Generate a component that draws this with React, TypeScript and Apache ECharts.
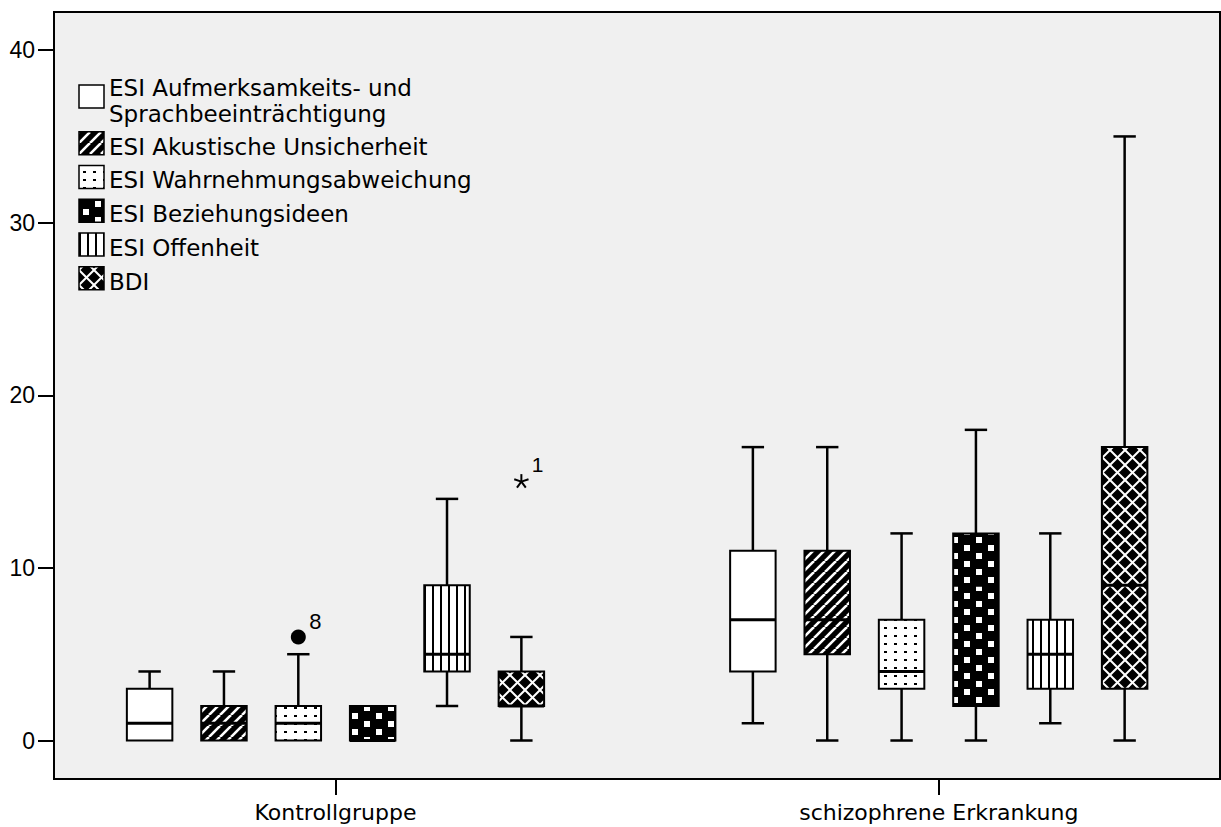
import React, { useEffect, useRef } from 'react';
import * as echarts from 'echarts';

// ---- data ----
const groups = ['Kontrollgruppe', 'schizophrene Erkrankung'];
const seriesNames = [
  'ESI Aufmerksamkeits- und Sprachbeeinträchtigung',
  'ESI Akustische Unsicherheit',
  'ESI Wahrnehmungsabweichung',
  'ESI Beziehungsideen',
  'ESI Offenheit',
  'BDI',
];
const legendLabels = [
  'ESI Aufmerksamkeits- und\nSprachbeeinträchtigung',
  'ESI Akustische Unsicherheit',
  'ESI Wahrnehmungsabweichung',
  'ESI Beziehungsideen',
  'ESI Offenheit',
  'BDI',
];
// per group: [min, Q1, median, Q3, max]
const aufmerksamkeit = [[0, 0, 1, 3, 4], [1, 4, 7, 11, 17]];
const akustisch = [[0, 0, 1, 2, 4], [0, 5, 7, 11, 17]];
const wahrnehmung = [[0, 0, 1, 2, 5], [0, 3, 4, 7, 12]];
const beziehung = [[0, 0, 0, 2, 2], [0, 2, 9, 12, 18]];
const offenheit = [[2, 4, 5, 9, 14], [1, 3, 5, 7, 12]];
const bdi = [[0, 2, 2, 4, 6], [0, 3, 9, 17, 35]];
const boxData = [aufmerksamkeit, akustisch, wahrnehmung, beziehung, offenheit, bdi];

const outlierGroup = [0, 0];
const outlierSeries = [2, 5];
const outlierValues = [6, 15];
const outlierLabels = ['8', '1'];
const outlierKinds = ['circle', 'star'];

const yTicks = [0, 10, 20, 30, 40];
const xTicks = [0, 1];

// ---- layout / style ----
const FONT = '"Liberation Sans", Arial, sans-serif';
const FONT_WIDE = '"DejaVu Sans", "Liberation Sans", Arial, sans-serif';
const SPACING = 0.12325;
const BOX_W = 0.0754;
const CAP_W = 0.0371;

function makePattern(w: number, h: number, draw: (ctx: CanvasRenderingContext2D, w: number, h: number) => void) {
  const c = document.createElement('canvas');
  c.width = w;
  c.height = h;
  const ctx = c.getContext('2d')!;
  draw(ctx, w, h);
  return { image: c.toDataURL(), repeat: 'repeat', imageWidth: w, imageHeight: h } as any;
}

function buildFills() {
  const white = '#ffffff';
  const hatch = makePattern(11, 11, (ctx, w, h) => {
    ctx.fillStyle = '#000';
    ctx.fillRect(0, 0, w, h);
    ctx.strokeStyle = '#fff';
    ctx.lineWidth = 2.6;
    for (const o of [-w, 0, w]) {
      ctx.beginPath();
      ctx.moveTo(o, h);
      ctx.lineTo(o + w, 0);
      ctx.stroke();
    }
  });
  const dots = makePattern(10, 8, (ctx, w, h) => {
    ctx.fillStyle = '#fff';
    ctx.fillRect(0, 0, w, h);
    ctx.fillStyle = '#000';
    ctx.fillRect(4, 3, 3, 2);
  });
  const checker = makePattern(24, 16, (ctx, w, h) => {
    ctx.fillStyle = '#000';
    ctx.fillRect(0, 0, w, h);
    ctx.fillStyle = '#fff';
    ctx.fillRect(4, 1, 6, 6);
    ctx.fillRect(16, 9, 6, 6);
  });
  const vlines = makePattern(8, 8, (ctx, w, h) => {
    ctx.fillStyle = '#fff';
    ctx.fillRect(0, 0, w, h);
    ctx.fillStyle = '#000';
    ctx.fillRect(0, 0, 2, h);
  });
  const cross = makePattern(15, 15, (ctx, w, h) => {
    ctx.fillStyle = '#000';
    ctx.fillRect(0, 0, w, h);
    ctx.strokeStyle = '#fff';
    ctx.lineWidth = 2;
    for (const o of [-w, 0, w]) {
      ctx.beginPath();
      ctx.moveTo(o, h);
      ctx.lineTo(o + w, 0);
      ctx.stroke();
      ctx.beginPath();
      ctx.moveTo(o, 0);
      ctx.lineTo(o + w, h);
      ctx.stroke();
    }
  });
  return [white, hatch, dots, checker, vlines, cross];
}

export default function App() {
  const ref = useRef<HTMLDivElement>(null);

  useEffect(() => {
    if (!ref.current) return;
    const chart = echarts.init(ref.current, null, { renderer: 'svg' });
    const fills = buildFills();

    const boxSeries = seriesNames.map((name, k) => ({
      type: 'custom',
      name,
      itemStyle: { color: fills[k] },
      encode: { x: 0, y: [1, 2, 3, 4, 5] },
      data: boxData[k].map((d, g) => [g, ...d]),
      renderItem: (params: any, api: any) => {
        const g = api.value(0);
        const xc = g + (k - 2.5) * SPACING;
        const cx = api.coord([xc, 0])[0];
        const xl = api.coord([xc - BOX_W / 2, 0])[0];
        const xr = api.coord([xc + BOX_W / 2, 0])[0];
        const cl = api.coord([xc - CAP_W / 2, 0])[0];
        const cr = api.coord([xc + CAP_W / 2, 0])[0];
        const y = (i: number) => api.coord([xc, api.value(i)])[1];
        const vMin = api.value(1), q1 = api.value(2), q3 = api.value(4), vMax = api.value(5);
        const yMin = y(1), yQ1 = y(2), yMed = y(3), yQ3 = y(4), yMax = y(5);
        const lineStyle = { stroke: '#000', lineWidth: 2.5 };
        const children: any[] = [];
        if (vMax > q3) {
          children.push({ type: 'line', shape: { x1: cx, y1: yQ3, x2: cx, y2: yMax }, style: lineStyle });
          children.push({ type: 'line', shape: { x1: cl, y1: yMax, x2: cr, y2: yMax }, style: lineStyle });
        }
        if (vMin < q1) {
          children.push({ type: 'line', shape: { x1: cx, y1: yQ1, x2: cx, y2: yMin }, style: lineStyle });
          children.push({ type: 'line', shape: { x1: cl, y1: yMin, x2: cr, y2: yMin }, style: lineStyle });
        }
        children.push({
          type: 'rect',
          shape: { x: xl, y: yQ3, width: xr - xl, height: yQ1 - yQ3 },
          style: { fill: fills[k], stroke: '#000', lineWidth: 2 },
        });
        children.push({ type: 'line', shape: { x1: xl, y1: yMed, x2: xr, y2: yMed }, style: { stroke: '#000', lineWidth: 3 } });
        return { type: 'group', children };
      },
    }));

    const outlierSeriesDef = {
      type: 'custom',
      name: 'outliers',
      z: 5,
      encode: { x: 0, y: 2 },
      data: outlierValues.map((v, i) => [outlierGroup[i], outlierSeries[i], v]),
      renderItem: (params: any, api: any) => {
        const i = params.dataIndex;
        const xc = api.value(0) + (api.value(1) - 2.5) * SPACING;
        const [cx, cy] = api.coord([xc, api.value(2)]);
        const children: any[] = [];
        if (outlierKinds[i] === 'circle') {
          children.push({ type: 'circle', shape: { cx, cy, r: 7.5 }, style: { fill: '#000' } });
          children.push({
            type: 'text', x: cx + 11, y: cy - 15.5,
            style: { text: outlierLabels[i], fontSize: 22, fontFamily: FONT, fill: '#000', align: 'left', verticalAlign: 'middle' },
          });
        } else {
          const L = 7.5;
          for (let a = 0; a < 5; a++) {
            const ang = -Math.PI / 2 + (a * 2 * Math.PI) / 5;
            children.push({
              type: 'line',
              shape: { x1: cx, y1: cy, x2: cx + L * Math.cos(ang), y2: cy + L * Math.sin(ang) },
              style: { stroke: '#000', lineWidth: 2 },
            });
          }
          children.push({
            type: 'text', x: cx + 10.5, y: cy - 17,
            style: { text: outlierLabels[i], fontSize: 21, fontFamily: FONT, fill: '#000', align: 'left', verticalAlign: 'middle' },
          });
        }
        return { type: 'group', children };
      },
    };

    // legend drawn as graphic elements (icon + text)
    const legendChildren: any[] = [];
    let top = 85;
    legendLabels.forEach((label, i) => {
      const lines = label.split('\n').length;
      legendChildren.push({
        type: 'rect',
        shape: { x: 0, y: top, width: 25, height: 23 },
        style: { fill: fills[i], stroke: '#000', lineWidth: 1.5 },
      });
      legendChildren.push({
        type: 'text',
        x: 30,
        y: top + 11.5 + (lines > 1 ? 4.2 : 3.4),
        style: {
          text: label, fontSize: 23, lineHeight: 26, fontFamily: FONT_WIDE, fill: '#000',
          align: 'left', verticalAlign: 'middle',
        },
      });
      top += lines > 1 ? 46.7 : 33.75;
    });

    chart.setOption({
      animation: false,
      backgroundColor: '#ffffff',
      grid: {
        left: 54, top: 12, right: 1, bottom: 48,
        show: true, backgroundColor: '#f0f0f0', borderColor: '#000', borderWidth: 2,
        containLabel: false, outerBoundsMode: 'none',
      },
      graphic: [{ type: 'group', left: 79, top: 0, bounding: 'raw', z: 10, children: legendChildren }],
      xAxis: {
        type: 'value',
        min: -0.4666,
        max: 1.4662,
        axisLine: { show: false, onZero: false },
        splitLine: { show: false },
        axisTick: { show: true, customValues: xTicks, length: 16, lineStyle: { color: '#000', width: 2 } },
        axisLabel: {
          customValues: xTicks,
          formatter: (v: number) => groups[Math.round(v)] ?? '',
          margin: 22, fontSize: 22, color: '#000', fontFamily: FONT_WIDE,
        },
      },
      yAxis: {
        type: 'value',
        min: -2.23,
        max: 42.21,
        axisLine: { show: false, onZero: false },
        splitLine: { show: false },
        axisTick: { show: true, customValues: yTicks, length: 16, lineStyle: { color: '#000', width: 2 } },
        axisLabel: {
          customValues: yTicks,
          formatter: (v: number) => String(v),
          margin: 19, fontSize: 23, color: '#000', fontFamily: FONT,
        },
      },
      series: [...boxSeries, outlierSeriesDef],
    } as any);

    return () => chart.dispose();
  }, []);

  return (
    <div
      ref={ref}
      style={{ position: 'fixed', left: 0, top: 0, width: 1221, height: 827 }}
    />
  );
}
